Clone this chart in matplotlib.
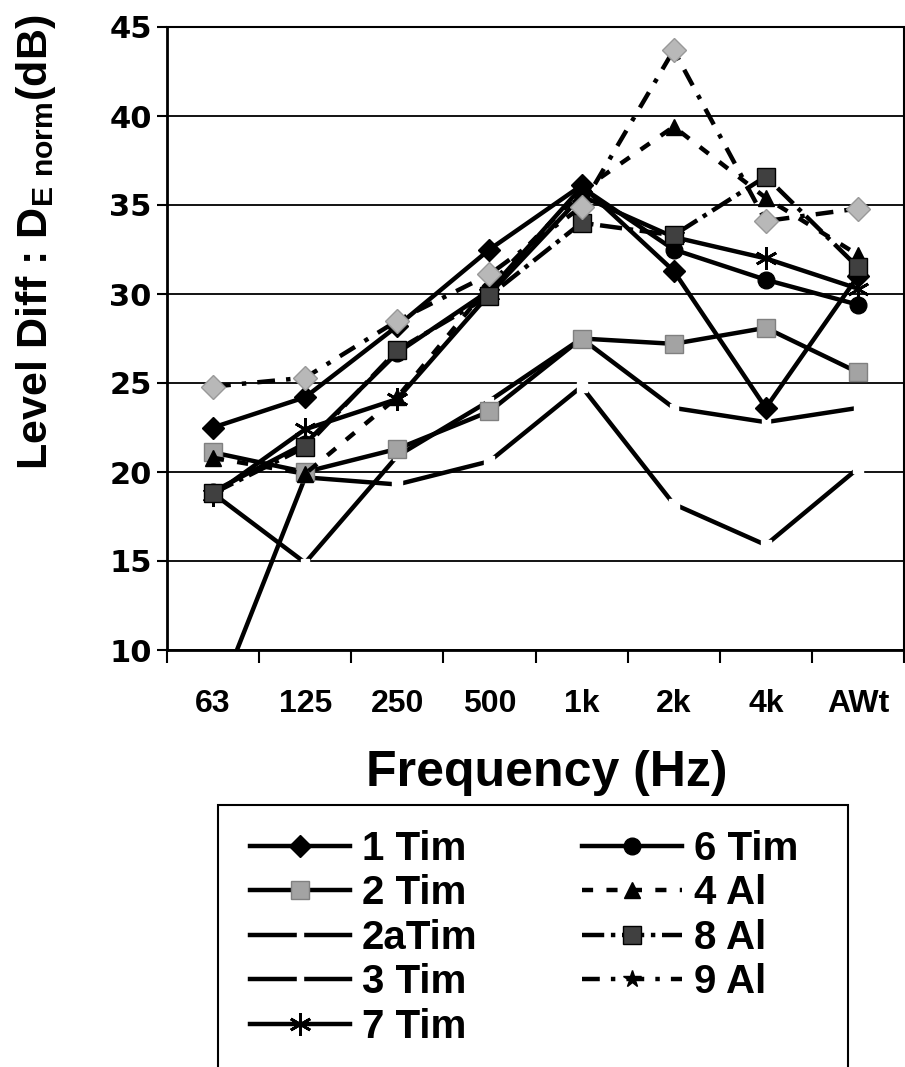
"""Level difference vs frequency, recreated from a scanned Excel chart."""

import matplotlib
matplotlib.use("Agg")
import matplotlib.pyplot as plt
from matplotlib import font_manager
from matplotlib.lines import Line2D
from matplotlib.patches import Rectangle

names = {f.name for f in font_manager.fontManager.ttflist}
narrow = "Liberation Sans Narrow" if "Liberation Sans Narrow" in names else None
plt.rcParams["font.family"] = ["Liberation Sans", "DejaVu Sans"]
plt.rcParams["mathtext.default"] = "regular"

# values (dB)
freqs = ["63", "125", "250", "500", "1k", "2k", "4k", "AWt"]
tim1 = [22.5, 24.2, 28.2, 32.5, 36.1, 31.3, 23.6, 31.0]
tim2 = [21.1, 20.0, 21.3, 23.4, 27.5, 27.2, 28.1, 25.6]
tim2a = [6.6, 19.7, 19.3, 20.6, 24.8, 18.2, 15.9, 20.2]
tim3 = [18.8, 14.9, 20.9, 24.0, 27.5, 23.6, 22.8, 23.6]
tim7 = [18.7, 22.4, 24.1, 30.0, 35.5, 33.2, 32.0, 30.3]
tim6 = [18.9, 21.6, 26.7, 30.2, 36.0, 32.5, 30.8, 29.4]
al4 = [20.8, 19.9, 24.2, 30.5, 35.8, 39.4, 35.4, 32.2]
al8 = [18.8, 21.4, 26.85, 29.9, 34.0, 33.3, 36.6, 31.5]
al9 = [24.8, 25.3, 28.5, 31.1, 34.9, 43.7, 34.1, 34.8]

W, H = 905, 1067
fig = plt.figure(figsize=(W / 100, H / 100), dpi=100)
ax = fig.add_axes([167 / W, 1 - 650 / H, (904 - 167) / W, (650 - 27) / H])

x = [i + 0.5 for i in range(len(freqs))]
lw = 3.2
asterisk = (6, 2, 0)

# (label, values, style, zorder)
styles = [
    ("1 Tim", tim1, dict(ls="-", marker="D", ms=11, mfc="black", mec="black"), 3),
    ("2 Tim", tim2, dict(ls="-", marker="s", ms=13, mfc="0.64", mec="0.5", mew=1), 3),
    ("2aTim", tim2a, dict(ls="-", marker="s", ms=7, mfc="white", mec="white"), 2),
    ("3 Tim", tim3, dict(ls="-", marker="s", ms=6, mfc="white", mec="white"), 2),
    ("7 Tim", tim7, dict(ls="-", marker=asterisk, ms=16, mfc="black", mec="black", mew=2), 3),
    ("6 Tim", tim6, dict(ls="-", marker="o", ms=12, mfc="black", mec="black"), 3),
    ("4 Al", al4, dict(ls=(0, (2.5, 3)), marker="^", ms=12, mfc="black", mec="black"), 3),
    ("8 Al", al8, dict(ls=(0, (5, 1.5, 1, 1.5)), marker="s", ms=13, mfc="0.25", mec="black", mew=1), 3),
    ("9 Al", al9, dict(ls=(0, (4, 2.5, 1, 2.5)), marker="D", ms=12, mfc="0.72", mec="0.6", mew=1), 3),
]

handles = []
for label, vals, st, z in styles:
    ax.plot(x, vals, color="black", lw=lw, label=label, zorder=z, **st)
    if label == "9 Al":
        hst = dict(st, marker="*", ms=13, mfc="black", mec="black")
    elif label in ("2aTim", "3 Tim"):
        hst = dict(st, ms=4)
    else:
        hst = st
    handles.append(Line2D([], [], color="black", lw=lw, **hst))

ax.set_xlim(0, 8)
ax.set_ylim(10, 45)
ax.set_yticks(range(10, 46, 5))
ax.set_yticklabels([str(v) for v in range(10, 46, 5)],
                   family="DejaVu Sans", fontweight="bold", fontsize=22)
ax.tick_params(axis="y", direction="out", length=7, width=1.5, pad=4)

ax.set_xticks(range(9))
ax.set_xticklabels([])
ax.set_xticks(x, minor=True)
ax.set_xticklabels(freqs, minor=True, fontweight="bold", fontsize=23)
ax.tick_params(axis="x", which="major", direction="out", length=9, width=1.5)
ax.tick_params(axis="x", which="minor", length=0, pad=28)

ax.grid(axis="y", color="black", lw=1.3)
ax.set_axisbelow(True)
for side in ("left", "bottom"):
    ax.spines[side].set_linewidth(2)
for side in ("top", "right"):
    ax.spines[side].set_linewidth(1.5)
    ax.spines[side].set_linestyle((0, (1.5, 1)))

ylab_kw = dict(rotation=90, ha="left", va="center", fontweight="bold")
if narrow:
    ylab_kw.update(family=[narrow, "DejaVu Sans"], fontsize=40)
else:
    ylab_kw.update(fontsize=31)
fig.text(14 / W, 1 - 242 / H, r"Level Diff : D$_{\mathregular{E\ norm}}$(dB)", **ylab_kw)

fig.text(547 / W, 1 - 786 / H, "Frequency (Hz)", ha="center", va="baseline",
         fontweight="bold", fontsize=36)

# legend box runs off the bottom of the picture
fig.patches.append(Rectangle((218 / W, -0.02), (848 - 218) / W, 0.02 + 1 - 805 / H,
                             transform=fig.transFigure, fill=False,
                             edgecolor="black", lw=1.5))
leg_font = {"weight": "bold", "size": 29}
leg = fig.legend(handles, [s[0] for s in styles], ncol=2, loc="upper left",
                 bbox_to_anchor=(250 / W, 1 - 830 / H), borderaxespad=0,
                 borderpad=0, prop=leg_font, frameon=False,
                 handlelength=2.48, handletextpad=0.3, labelspacing=0.16,
                 columnspacing=2.6)

fig.savefig("out.png", dpi=100)
